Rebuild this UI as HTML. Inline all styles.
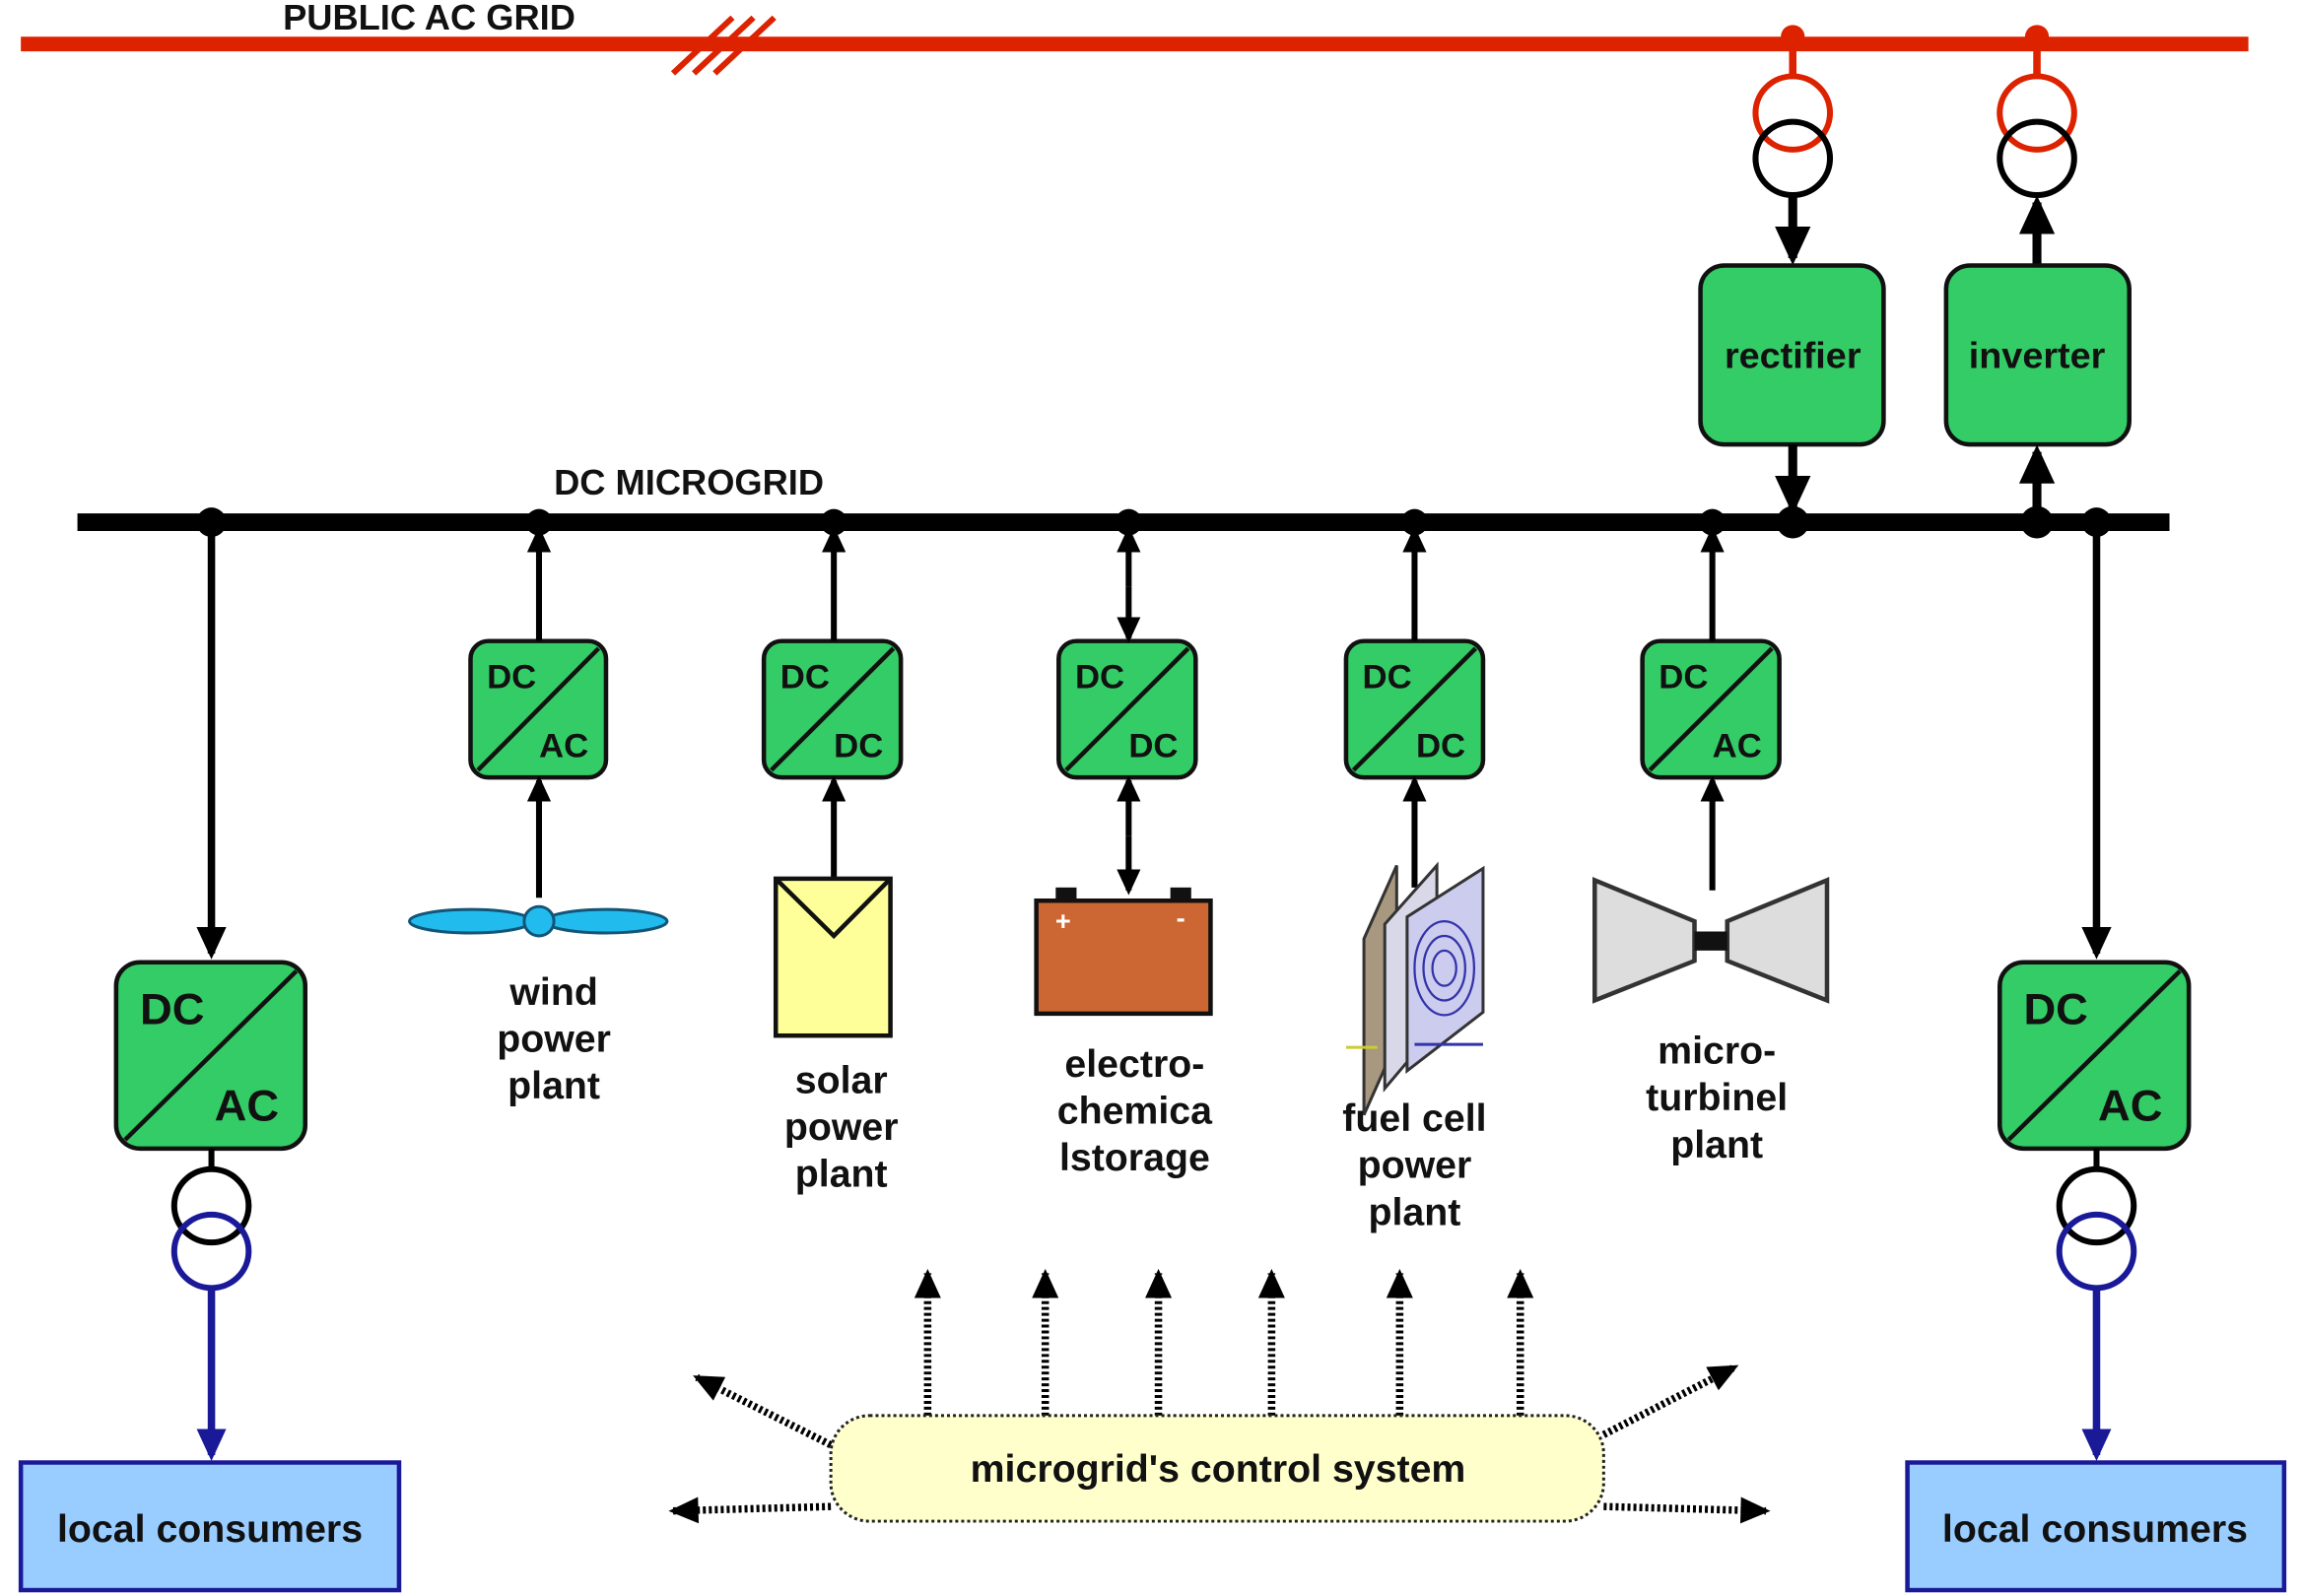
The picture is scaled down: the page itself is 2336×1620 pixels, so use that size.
<!DOCTYPE html>
<html><head><meta charset="utf-8"><style>
html,body{margin:0;padding:0;background:#fff;}
svg{display:block;}
text{font-family:"Liberation Sans",Arial,sans-serif;font-weight:bold;fill:#111;}
</style></head><body>
<svg width="2336" height="1620" viewBox="0 0 1546 1088" preserveAspectRatio="none" xmlns="http://www.w3.org/2000/svg">
<defs>
<marker id="ah" markerWidth="4.4" markerHeight="4" refX="3.6" refY="2" orient="auto" markerUnits="strokeWidth"><path d="M0,0 L4.4,2 L0,4 z" fill="#000"/></marker>
<marker id="ahb" markerWidth="4.4" markerHeight="4" refX="3.6" refY="2" orient="auto" markerUnits="strokeWidth"><path d="M0,0 L4.4,2 L0,4 z" fill="#1a1a99"/></marker>
<marker id="ahd" markerWidth="4" markerHeight="3.6" refX="3.4" refY="1.8" orient="auto" markerUnits="strokeWidth"><path d="M0,0 L4,1.8 L0,3.6 z" fill="#000"/></marker>
</defs>
<line x1="14" y1="30" x2="1510" y2="30" stroke="#dd2200" stroke-width="10"/>
<text x="190" y="20" font-size="24">PUBLIC AC GRID</text>
<g stroke="#dd2200" stroke-width="4">
<line x1="452" y1="50" x2="492" y2="12"/><line x1="466" y1="50" x2="506" y2="12"/><line x1="480" y1="50" x2="520" y2="12"/>
</g>
<g>
<circle cx="1204" cy="25" r="8" fill="#dd2200"/><line x1="1204" y1="25" x2="1204" y2="52" stroke="#dd2200" stroke-width="5"/>
<circle cx="1204" cy="77" r="25" fill="none" stroke="#dd2200" stroke-width="4"/>
<circle cx="1204" cy="108" r="25" fill="none" stroke="#000" stroke-width="4"/>
<line x1="1204" y1="133" x2="1204" y2="176" stroke="#000" stroke-width="6" marker-end="url(#ah)"/>
<circle cx="1368" cy="25" r="8" fill="#dd2200"/><line x1="1368" y1="25" x2="1368" y2="52" stroke="#dd2200" stroke-width="5"/>
<circle cx="1368" cy="77" r="25" fill="none" stroke="#dd2200" stroke-width="4"/>
<circle cx="1368" cy="108" r="25" fill="none" stroke="#000" stroke-width="4"/>
<line x1="1368" y1="181" x2="1368" y2="138" stroke="#000" stroke-width="6" marker-end="url(#ah)"/>
</g>
<rect x="1142" y="181" width="123" height="122" rx="16" fill="#33cc66" stroke="#111" stroke-width="3"/>
<text x="1204" y="251" font-size="25" text-anchor="middle">rectifier</text>
<rect x="1307" y="181" width="123" height="122" rx="16" fill="#33cc66" stroke="#111" stroke-width="3"/>
<text x="1368" y="251" font-size="25" text-anchor="middle">inverter</text>
<line x1="1204" y1="303" x2="1204" y2="346" stroke="#000" stroke-width="6" marker-end="url(#ah)"/>
<line x1="1368" y1="356" x2="1368" y2="308" stroke="#000" stroke-width="6" marker-end="url(#ah)"/>
<line x1="52" y1="356" x2="1457" y2="356" stroke="#000" stroke-width="12"/>
<text x="372" y="337" font-size="24">DC MICROGRID</text>
<g fill="#000">
<circle cx="142" cy="356" r="10"/><circle cx="362" cy="356" r="9"/><circle cx="560" cy="356" r="9"/><circle cx="758" cy="356" r="9"/><circle cx="950" cy="356" r="9"/><circle cx="1150" cy="356" r="9"/><circle cx="1204" cy="356" r="11"/><circle cx="1368" cy="356" r="11"/><circle cx="1408" cy="356" r="10"/>
</g>
<g>
<line x1="142" y1="356" x2="142" y2="650" stroke="#000" stroke-width="5" marker-end="url(#ah)"/>
<rect x="78" y="656" width="127" height="127" rx="16" fill="#33cc66" stroke="#111" stroke-width="3"/>
<line x1="84" y1="777" x2="199" y2="662" stroke="#111" stroke-width="3"/>
<text x="94" y="698" font-size="30">DC</text><text x="144" y="764" font-size="30">AC</text>
<line x1="142" y1="783" x2="142" y2="798" stroke="#000" stroke-width="4"/>
<circle cx="142" cy="822" r="25" fill="none" stroke="#000" stroke-width="4"/>
<circle cx="142" cy="853" r="25" fill="none" stroke="#1a1a99" stroke-width="4"/>
<line x1="142" y1="878" x2="142" y2="992" stroke="#1a1a99" stroke-width="5" marker-end="url(#ahb)"/>
<rect x="14" y="997" width="254" height="87" fill="#99ccff" stroke="#1a1a99" stroke-width="3"/>
<text x="141" y="1051" font-size="26" text-anchor="middle">local consumers</text>
</g>
<g>
<line x1="1408" y1="356" x2="1408" y2="650" stroke="#000" stroke-width="5" marker-end="url(#ah)"/>
<rect x="1343" y="656" width="127" height="127" rx="16" fill="#33cc66" stroke="#111" stroke-width="3"/>
<line x1="1349" y1="777" x2="1464" y2="662" stroke="#111" stroke-width="3"/>
<text x="1359" y="698" font-size="30">DC</text><text x="1409" y="764" font-size="30">AC</text>
<line x1="1408" y1="783" x2="1408" y2="798" stroke="#000" stroke-width="4"/>
<circle cx="1408" cy="822" r="25" fill="none" stroke="#000" stroke-width="4"/>
<circle cx="1408" cy="853" r="25" fill="none" stroke="#1a1a99" stroke-width="4"/>
<line x1="1408" y1="878" x2="1408" y2="992" stroke="#1a1a99" stroke-width="5" marker-end="url(#ahb)"/>
<rect x="1281" y="997" width="253" height="87" fill="#99ccff" stroke="#1a1a99" stroke-width="3"/>
<text x="1407" y="1051" font-size="26" text-anchor="middle">local consumers</text>
</g>
<g>
<rect x="316" y="437" width="91" height="93" rx="12" fill="#33cc66" stroke="#111" stroke-width="3"/><line x1="321" y1="525" x2="402" y2="442" stroke="#111" stroke-width="3"/>
<text x="327" y="469" font-size="23">DC</text><text x="362" y="516" font-size="23">AC</text>
<rect x="513" y="437" width="92" height="93" rx="12" fill="#33cc66" stroke="#111" stroke-width="3"/><line x1="518" y1="525" x2="600" y2="442" stroke="#111" stroke-width="3"/>
<text x="524" y="469" font-size="23">DC</text><text x="560" y="516" font-size="23">DC</text>
<rect x="711" y="437" width="92" height="93" rx="12" fill="#33cc66" stroke="#111" stroke-width="3"/><line x1="716" y1="525" x2="798" y2="442" stroke="#111" stroke-width="3"/>
<text x="722" y="469" font-size="23">DC</text><text x="758" y="516" font-size="23">DC</text>
<rect x="904" y="437" width="92" height="93" rx="12" fill="#33cc66" stroke="#111" stroke-width="3"/><line x1="909" y1="525" x2="991" y2="442" stroke="#111" stroke-width="3"/>
<text x="915" y="469" font-size="23">DC</text><text x="951" y="516" font-size="23">DC</text>
<rect x="1103" y="437" width="92" height="93" rx="12" fill="#33cc66" stroke="#111" stroke-width="3"/><line x1="1108" y1="525" x2="1190" y2="442" stroke="#111" stroke-width="3"/>
<text x="1114" y="469" font-size="23">DC</text><text x="1150" y="516" font-size="23">AC</text>
</g>
<g stroke="#000" stroke-width="4">
<line x1="362" y1="437" x2="362" y2="362" marker-end="url(#ah)"/>
<line x1="560" y1="437" x2="560" y2="362" marker-end="url(#ah)"/>
<line x1="758" y1="400" x2="758" y2="362" marker-end="url(#ah)"/><line x1="758" y1="400" x2="758" y2="435" marker-end="url(#ah)"/>
<line x1="950" y1="437" x2="950" y2="362" marker-end="url(#ah)"/>
<line x1="1150" y1="437" x2="1150" y2="362" marker-end="url(#ah)"/>
<line x1="362" y1="612" x2="362" y2="532" marker-end="url(#ah)"/>
<line x1="560" y1="598" x2="560" y2="532" marker-end="url(#ah)"/>
<line x1="758" y1="570" x2="758" y2="532" marker-end="url(#ah)"/><line x1="758" y1="570" x2="758" y2="607" marker-end="url(#ah)"/>
<line x1="950" y1="605" x2="950" y2="532" marker-end="url(#ah)"/>
<line x1="1150" y1="607" x2="1150" y2="532" marker-end="url(#ah)"/>
</g>
<ellipse cx="316" cy="628" rx="41" ry="8" fill="#22bbee" stroke="#115577" stroke-width="2"/>
<ellipse cx="407" cy="628" rx="41" ry="8" fill="#22bbee" stroke="#115577" stroke-width="2"/>
<circle cx="362" cy="628" r="10" fill="#22bbee" stroke="#115577" stroke-width="2"/>
<rect x="521" y="599" width="77" height="107" fill="#ffff99" stroke="#111" stroke-width="3"/>
<polyline points="521,599 560,638 598,599" fill="none" stroke="#111" stroke-width="3"/>
<rect x="709" y="605" width="14" height="10" fill="#111"/><rect x="786" y="605" width="14" height="10" fill="#111"/>
<rect x="696" y="614" width="117" height="77" fill="#cc6633" stroke="#111" stroke-width="3"/>
<text x="714" y="634" font-size="18" text-anchor="middle" style="fill:#fff">+</text>
<text x="793" y="632" font-size="18" text-anchor="middle" style="fill:#fff">-</text>
<polygon points="916,640 938,590 938,710 916,760" fill="#a89880" stroke="#333" stroke-width="2"/>
<polygon points="930,630 965,590 965,700 930,742" fill="#d8d8e8" stroke="#333" stroke-width="2"/>
<polygon points="945,625 996,592 996,690 945,730" fill="#ccccee" stroke="#333" stroke-width="2"/>
<g fill="none" stroke="#3333aa" stroke-width="1.5">
<ellipse cx="970" cy="660" rx="8" ry="12"/><ellipse cx="970" cy="660" rx="14" ry="22"/><ellipse cx="970" cy="660" rx="20" ry="32"/>
</g>
<line x1="950" y1="712" x2="996" y2="712" stroke="#3333aa" stroke-width="2"/>
<line x1="904" y1="714" x2="925" y2="714" stroke="#cccc33" stroke-width="2"/>
<polygon points="1071,600 1138,628 1138,655 1071,682" fill="#dddddd" stroke="#333" stroke-width="3"/>
<polygon points="1227,600 1160,628 1160,655 1227,682" fill="#dddddd" stroke="#333" stroke-width="3"/>
<rect x="1138" y="635" width="22" height="13" fill="#111"/>
<g font-size="26" text-anchor="middle">
<text x="372" y="685">wind</text><text x="372" y="717">power</text><text x="372" y="749">plant</text>
<text x="565" y="745">solar</text><text x="565" y="777">power</text><text x="565" y="809">plant</text>
<text x="762" y="734">electro-</text><text x="762" y="766">chemica</text><text x="762" y="798">lstorage</text>
<text x="950" y="771">fuel cell</text><text x="950" y="803">power</text><text x="950" y="835">plant</text>
<text x="1153" y="725">micro-</text><text x="1153" y="757">turbinel</text><text x="1153" y="789">plant</text>
</g>
<g stroke="#000" stroke-width="5" stroke-dasharray="2 2" fill="none">
<line x1="623" y1="965" x2="623" y2="868" marker-end="url(#ahd)"/>
<line x1="702" y1="965" x2="702" y2="868" marker-end="url(#ahd)"/>
<line x1="778" y1="965" x2="778" y2="868" marker-end="url(#ahd)"/>
<line x1="854" y1="965" x2="854" y2="868" marker-end="url(#ahd)"/>
<line x1="940" y1="965" x2="940" y2="868" marker-end="url(#ahd)"/>
<line x1="1021" y1="965" x2="1021" y2="868" marker-end="url(#ahd)"/>
<line x1="558" y1="985" x2="468" y2="939" marker-end="url(#ahd)"/>
<line x1="558" y1="1027" x2="452" y2="1030" marker-end="url(#ahd)"/>
<line x1="1077" y1="978" x2="1165" y2="932" marker-end="url(#ahd)"/>
<line x1="1077" y1="1027" x2="1186" y2="1030" marker-end="url(#ahd)"/>
</g>
<rect x="558" y="965" width="519" height="72" rx="26" fill="#ffffcc" stroke="#222" stroke-width="2" stroke-dasharray="2 2"/>
<text x="818" y="1010" font-size="26" text-anchor="middle">microgrid's control system</text>
</svg>
</body></html>
